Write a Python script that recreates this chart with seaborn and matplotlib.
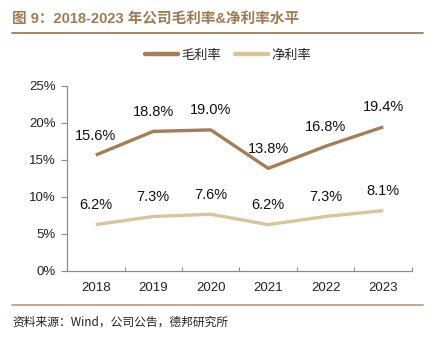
import matplotlib
matplotlib.use("Agg")
import matplotlib.pyplot as plt
from matplotlib.lines import Line2D
from matplotlib.ticker import FixedLocator, PercentFormatter
import numpy as np
import pandas as pd
import seaborn as sns

years = ["2018", "2019", "2020", "2021", "2022", "2023"]
gross_margin = [15.6, 18.8, 19.0, 13.8, 16.8, 19.4]
net_margin = [6.2, 7.3, 7.6, 6.2, 7.3, 8.1]
series_names = ["毛利率", "净利率"]
colors = ["#A67D55", "#D9C59C"]

sns.set_theme(style="white")
plt.rcParams["font.family"] = ["Liberation Sans", "Noto Sans CJK SC", "DejaVu Sans"]

df = pd.DataFrame({
    "year": years * 2,
    "value": gross_margin + net_margin,
    "series": [series_names[0]] * len(years) + [series_names[1]] * len(years),
})
df["x"] = np.tile(np.arange(len(years)), 2)

W, H = 443, 343
fig = plt.figure(figsize=(W / 100, H / 100), dpi=100)
ax = fig.add_axes([67 / W, 1 - 270.5 / H, (412 - 67) / W, (270.5 - 85.5) / H])

sns.lineplot(data=df, x="x", y="value", hue="series", palette=colors,
             hue_order=series_names, linewidth=2.4, ax=ax, legend=False,
             solid_capstyle="butt")

for vals in (gross_margin, net_margin):
    for i, v in enumerate(vals):
        ax.annotate(f"{v:.1f}%", (i, v), xytext=(0, 14), textcoords="offset points",
                    ha="center", va="center", fontsize=10.5, color="#111111")

ax.set_xlim(-0.5, len(years) - 0.5)
ax.set_ylim(0, 25)
ax.set_yticks([0, 5, 10, 15, 20, 25])
ax.yaxis.set_major_formatter(PercentFormatter(decimals=0))
ax.set_xticks(range(len(years)))
ax.set_xticklabels(years)
ax.xaxis.set_minor_locator(FixedLocator(np.arange(0.5, len(years), 1.0)))
ax.set_xlabel("")
ax.set_ylabel("")

for side in ("top", "right"):
    ax.spines[side].set_visible(False)
for side in ("left", "bottom"):
    ax.spines[side].set_color("#8c8c8c")
    ax.spines[side].set_linewidth(0.9)

ax.tick_params(axis="y", which="major", direction="out", length=4, width=0.8,
               color="#8c8c8c", left=True, labelsize=9.5, labelcolor="#222222", pad=4)
ax.tick_params(axis="x", which="major", length=0, labelsize=9.5,
               labelcolor="#222222", pad=8)
ax.tick_params(axis="x", which="minor", direction="in", length=3, width=0.8,
               color="#8c8c8c", bottom=True)
ax.grid(False)

# legend
handles = [Line2D([0], [0], color=c, lw=3.2) for c in colors]
fig.legend(handles, series_names, loc="center", bbox_to_anchor=(228 / W, 1 - 55 / H),
           ncol=2, frameon=False, handlelength=2.5, columnspacing=1.1,
           handletextpad=0.25, prop={"family": ["Noto Sans CJK SC"], "size": 9.5})

# header and footer
fig.text(12 / W, 1 - 19 / H, "图 9：2018-2023 年公司毛利率&净利率水平",
         ha="left", va="center", fontsize=10.5, fontweight="bold", color="#A07A52",
         family=["Liberation Sans", "Noto Sans CJK SC"])
fig.add_artist(Line2D([12 / W, 423 / W], [1 - 33 / H, 1 - 33 / H],
                      transform=fig.transFigure, color="#A8865F", lw=1.4))
fig.add_artist(Line2D([12 / W, 423 / W], [1 - 305 / H, 1 - 305 / H],
                      transform=fig.transFigure, color="#C8A888", lw=1.4))
fig.text(12 / W, 1 - 322 / H, "资料来源：Wind，公司公告，德邦研究所",
         ha="left", va="center", fontsize=8.5, color="#222222",
         family=["Noto Sans CJK SC", "Liberation Sans"])

fig.savefig("out.png", dpi=100)
